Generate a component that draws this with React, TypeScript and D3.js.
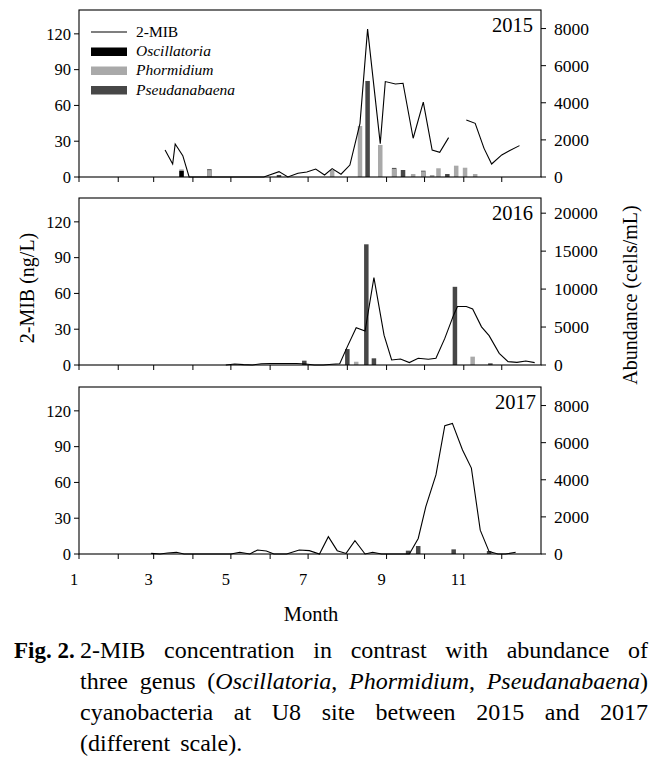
import React, { useLayoutEffect, useRef } from "react";
import * as d3 from "d3";

// ---------- data ----------
type Pt = [string, number | null];

const monthTickLabels = ["1", "", "3", "", "5", "", "7", "", "9", "", "11", ""];
const leftTicks = [0, 30, 60, 90, 120];
const rightTicks2015 = [0, 2000, 4000, 6000, 8000];
const rightTicks2016 = [0, 5000, 10000, 15000, 20000];
const rightTicks2017 = [0, 2000, 4000, 6000, 8000];

const mib2015: Pt[] = [
  ["03-10", 22.6], ["03-16", 10.9], ["03-18", 27.7], ["03-24", 17.9], ["03-29", 0],
  ["05-27", 0], ["06-08", 4.5], ["06-15", 0], ["06-23", 3.1], ["06-30", 4.2],
  ["07-07", 6.7], ["07-14", 1.7], ["07-20", 7], ["07-27", 2.3], ["08-03", 10],
  ["08-11", 45], ["08-17", 124], ["08-27", 28], ["08-31", 80], ["09-08", 78],
  ["09-14", 78.6], ["09-22", 32.5], ["09-30", 62.7], ["10-07", 22.6], ["10-13", 20.7],
  ["10-20", 33], ["10-27", null], ["11-03", 47.8], ["11-10", 45], ["11-17", 24],
  ["11-23", 10.9], ["12-01", 18.5], ["12-07", 22], ["12-15", 26.3],
];
const osc2015: Pt[] = [["03-23", 330]];
const phorm2015: Pt[] = [
  ["03-23", 410], ["04-14", 370], ["07-20", 380], ["08-11", 2750], ["08-27", 1725],
  ["09-07", 440], ["09-22", 160], ["09-30", 300], ["10-07", 108], ["10-12", 470],
  ["10-26", 610], ["11-02", 500], ["11-10", 160],
];
const pseud2015: Pt[] = [
  ["04-14", 420], ["06-08", 108], ["08-17", 5175], ["09-07", 490], ["09-14", 377],
  ["09-30", 340], ["10-19", 160],
];

const mib2016: Pt[] = [
  ["04-27", 0], ["05-04", 0.8], ["05-11", 0.3], ["05-18", 0], ["05-25", 1],
  ["06-01", 1.2], ["06-08", 1.2], ["06-15", 1.3], ["06-22", 1.2], ["06-29", 0.8],
  ["07-06", 0], ["07-13", 0], ["07-20", 0.6], ["07-26", 1], ["08-01", 15.4],
  ["08-08", 31.3], ["08-15", 28.5], ["08-22", 73.2], ["08-30", 25], ["09-05", 4.2],
  ["09-12", 5], ["09-19", 2], ["09-26", 5.6], ["10-04", 4.8], ["10-10", 5.6],
  ["10-17", 22.3], ["10-24", 42], ["10-27", 49], ["11-03", 49], ["11-08", 47],
  ["11-15", 32], ["11-21", 24.6], ["11-29", 9.8], ["12-06", 2.8], ["12-13", 2.2],
  ["12-20", 3.4], ["12-27", 2],
];
const osc2016: Pt[] = [];
const phorm2016: Pt[] = [["08-08", 430], ["11-08", 1100]];
const pseud2016: Pt[] = [
  ["06-28", 570], ["08-01", 2100], ["08-16", 15900], ["08-22", 880],
  ["10-25", 10300], ["11-22", 220],
];

const mib2017: Pt[] = [
  ["02-27", 0.5], ["03-06", 0], ["03-12", 0.8], ["03-19", 1.4], ["03-25", 0],
  ["05-01", 0], ["05-08", 1.4], ["05-16", 0], ["05-22", 3.4], ["05-29", 2.5],
  ["06-04", 0], ["06-14", 0], ["06-24", 3.4], ["07-02", 2.8], ["07-10", 0],
  ["07-17", 14.5], ["07-24", 2.8], ["07-31", 0.5], ["08-07", 11.2], ["08-15", 0],
  ["08-21", 1.4], ["08-28", 0], ["09-19", 0], ["09-26", 13], ["10-02", 39.7],
  ["10-10", 66.3], ["10-17", 107.6], ["10-23", 109.5], ["10-31", 87.2], ["11-07", 72],
  ["11-14", 20], ["11-21", 2], ["11-28", 0], ["12-04", 0], ["12-12", 1.4],
];
const osc2017: Pt[] = [];
const phorm2017: Pt[] = [];
const pseud2017: Pt[] = [["09-18", 180], ["09-26", 430], ["10-24", 250], ["11-21", 160]];

const legendLabels = ["2-MIB", "Oscillatoria", "Phormidium", "Pseudanabaena"];

const captionLines = [
  "2-MIB concentration in contrast with abundance of",
  "three genus (*Oscillatoria*, *Phormidium*, *Pseudanabaena*)",
  "cyanobacteria at U8 site between 2015 and 2017",
  "(different scale).",
];

// ---------- styling / layout ----------
const FONT = "'Liberation Serif', 'Times New Roman', serif";
const C_OSC = "#000000";
const C_PHORM = "#a9a9a9";
const C_PSEUD = "#474747";
const CAP_SIZE = 24;

const X0 = 79;
const X1 = 541;
const panels = [
  { year: "2015", top: 10, bottom: 177, rMax: 9000, rTicks: rightTicks2015, mib: mib2015, osc: osc2015, phorm: phorm2015, pseud: pseud2015, yearX: 533, legend: true },
  { year: "2016", top: 198, bottom: 365, rMax: 22000, rTicks: rightTicks2016, mib: mib2016, osc: osc2016, phorm: phorm2016, pseud: pseud2016, yearX: 533, legend: false },
  { year: "2017", top: 387, bottom: 554, rMax: 9000, rTicks: rightTicks2017, mib: mib2017, osc: osc2017, phorm: phorm2017, pseud: pseud2017, yearX: 536, legend: false },
];

const parseDate = d3.timeParse("%Y-%m-%d");
const toDate = (s: string) => parseDate("2015-" + s) as Date;

const x = d3.scaleTime().domain([new Date(2015, 0, 1), new Date(2016, 0, 1)]).range([X0, X1]);
const monthStarts = d3.range(12).map((m) => new Date(2015, m, 1));

function Panel({ p, showX }: { p: (typeof panels)[number]; showX: boolean }) {
  const yL = d3.scaleLinear().domain([0, 140]).range([p.bottom, p.top]);
  const yR = d3.scaleLinear().domain([0, p.rMax]).range([p.bottom, p.top]);
  const line = d3
    .line<Pt>()
    .defined((d) => d[1] != null)
    .x((d) => x(toDate(d[0])))
    .y((d) => yL(d[1] as number));
  const bw = 4.5;
  const bars = (data: Pt[], color: string, key: string) =>
    data.map((d, i) => (
      <rect
        key={key + i}
        x={x(toDate(d[0])) - bw / 2}
        y={yR(d[1] as number)}
        width={bw}
        height={p.bottom - yR(d[1] as number)}
        fill={color}
      />
    ));
  return (
    <g>
      {bars(p.pseud, C_PSEUD, "ps")}
      {bars(p.phorm, C_PHORM, "ph")}
      {bars(p.osc, C_OSC, "os")}
      <path d={line(p.mib) || ""} fill="none" stroke="#000" strokeWidth={1.1} />
      <rect x={X0} y={p.top} width={X1 - X0} height={p.bottom - p.top} fill="none" stroke="#000" strokeWidth={1.1} />
      {leftTicks.map((t) => (
        <g key={"l" + t}>
          <line x1={X0 - 5} x2={X0} y1={yL(t)} y2={yL(t)} stroke="#000" />
          <text x={71} y={yL(t)} dy="0.35em" textAnchor="end" fontSize={16.5} fontFamily={FONT}>
            {t}
          </text>
        </g>
      ))}
      {p.rTicks.map((t) => (
        <g key={"r" + t}>
          <line x1={X1} x2={X1 + 5} y1={yR(t)} y2={yR(t)} stroke="#000" />
          <text x={554} y={yR(t)} dy="0.35em" textAnchor="start" fontSize={17.5} fontFamily={FONT}>
            {t}
          </text>
        </g>
      ))}
      {monthStarts.map((d, i) => (
        <g key={"m" + i}>
          <line x1={x(d)} x2={x(d)} y1={p.bottom} y2={p.bottom + 5} stroke="#000" />
          {showX && monthTickLabels[i] !== "" && (
            <text x={x(d) - 5} y={585} textAnchor="middle" fontSize={16.5} fontFamily={FONT}>
              {monthTickLabels[i]}
            </text>
          )}
        </g>
      ))}
      <text x={p.yearX} y={p.top + 22} textAnchor="end" fontSize={20.5} fontFamily={FONT}>
        {p.year}
      </text>
      {p.legend && (
        <g fontFamily={FONT} fontSize={15.5}>
          <line x1={91} x2={127} y1={32} y2={32} stroke="#000" strokeWidth={1.2} />
          <text x={136} y={37}>{legendLabels[0]}</text>
          <rect x={91} y={47.5} width={36} height={8.5} fill={C_OSC} />
          <text x={136} y={56} fontStyle="italic">{legendLabels[1]}</text>
          <rect x={91} y={66.5} width={36} height={8.5} fill={C_PHORM} />
          <text x={136} y={75} fontStyle="italic">{legendLabels[2]}</text>
          <rect x={91} y={86} width={36} height={8.5} fill={C_PSEUD} />
          <text x={136} y={94.5} fontStyle="italic">{legendLabels[3]}</text>
        </g>
      )}
    </g>
  );
}

function Word({ w }: { w: string }) {
  const parts = w.split("*");
  return (
    <text fontSize={CAP_SIZE} fontFamily={FONT}>
      {parts.map((s, i) =>
        s ? (
          <tspan key={i} fontStyle={i % 2 === 1 ? "italic" : "normal"}>
            {s}
          </tspan>
        ) : null
      )}
    </text>
  );
}

export default function App() {
  const capRef = useRef<SVGGElement>(null);
  useLayoutEffect(() => {
    if (!capRef.current) return;
    d3.select(capRef.current)
      .selectAll<SVGGElement, unknown>("g.cline")
      .each(function () {
        const g = this as SVGGElement;
        const justify = g.getAttribute("data-justify") === "1";
        const texts = Array.from(g.querySelectorAll("text")) as SVGTextElement[];
        const widths = texts.map((t) => t.getComputedTextLength());
        const total = widths.reduce((a, b) => a + b, 0);
        const L = 80;
        const R = 648;
        const gap = justify && texts.length > 1 ? (R - L - total) / (texts.length - 1) : 10;
        let cx = L;
        texts.forEach((t, i) => {
          t.setAttribute("x", String(cx));
          cx += widths[i] + gap;
        });
      });
  }, []);

  const baselines = [658, 689, 720, 751];
  return (
    <svg width={661} height={758} style={{ position: "absolute", left: 0, top: 0, background: "#fff" }}>
      <rect width={661} height={758} fill="#fff" />
      {panels.map((p, i) => (
        <Panel key={p.year} p={p} showX={i === 2} />
      ))}
      <text transform="translate(34,288) rotate(-90)" textAnchor="middle" fontSize={20} fontFamily={FONT}>
        2-MIB (ng/L)
      </text>
      <text transform="translate(637,295) rotate(-90)" textAnchor="middle" fontSize={20} fontFamily={FONT}>
        Abundance (cells/mL)
      </text>
      <text x={311} y={621} textAnchor="middle" fontSize={20.5} fontFamily={FONT}>
        Month
      </text>
      <text x={14} y={baselines[0]} fontSize={23} fontWeight="bold" fontFamily={FONT}>
        Fig. 2.
      </text>
      <g ref={capRef}>
        {captionLines.map((ln, li) => (
          <g key={li} className="cline" data-justify={li < 3 ? "1" : "0"} transform={`translate(0,${baselines[li]})`}>
            {ln.split(" ").map((w, wi) => (
              <Word key={wi} w={w} />
            ))}
          </g>
        ))}
      </g>
    </svg>
  );
}
